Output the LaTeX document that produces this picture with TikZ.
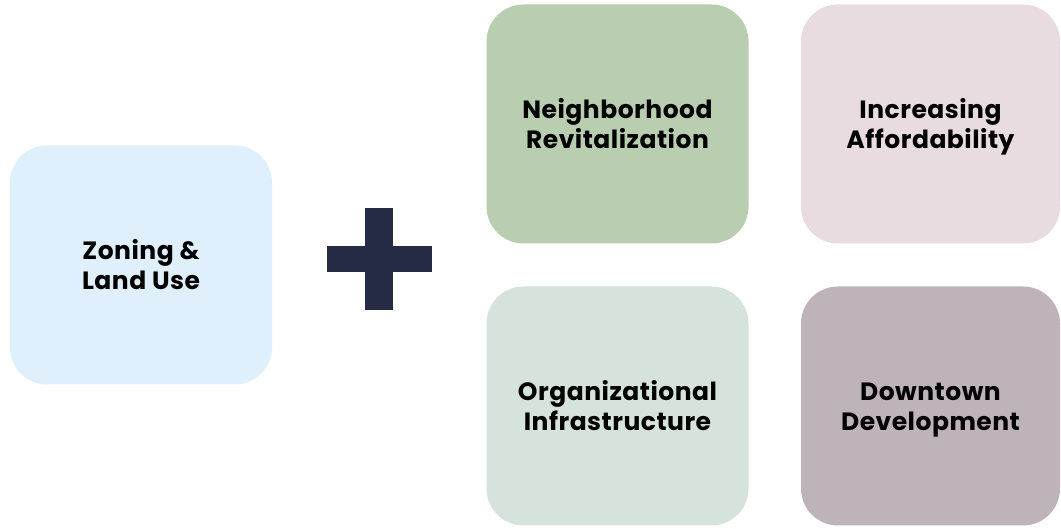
\documentclass[tikz,border=0pt]{standalone}
\usepackage{fontspec}
\setmainfont{Poppins}[LetterSpace=2]
\definecolor{cblue}{HTML}{E0EFFC}
\definecolor{cgreen}{HTML}{B9CDB1}
\definecolor{cpink}{HTML}{E8DCE0}
\definecolor{csage}{HTML}{D6E2DC}
\definecolor{cmauve}{HTML}{BFB3BA}
\definecolor{cnavy}{HTML}{252A45}
\newcommand{\topstrut}{\rule{0pt}{28pt}}
\newcommand{\botstrut}{\rule[-8pt]{0pt}{0pt}}
\begin{document}
\begin{tikzpicture}[x=1pt,y=1pt,
  tile/.style={rectangle,rounded corners=37pt,draw=none,minimum width=262pt,minimum height=239pt,
    align=center,font=\fontsize{25}{30}\selectfont\bfseries,text=black,inner sep=0pt},
  bar/.style={rectangle,fill=cnavy,draw=none,inner sep=0pt}]
\useasboundingbox (0,0) rectangle (1061,529);
\fill[white] (0,0) rectangle (1061,529);
\node[tile,fill=cblue] (zon) at (141,264) {\topstrut Zoning \&\\Land Use\botstrut};
\node[bar,minimum width=28pt,minimum height=102pt] (pv) at (379,270) {};
\node[bar,minimum width=105pt,minimum height=26pt] (ph) at (379.5,270) {};
\node[tile,fill=cgreen] (nei) at (617.5,405) {\topstrut Neighborhood\\Revitalization\botstrut};
\node[tile,fill=cpink,minimum width=259pt] (inc) at (930.5,405) {\topstrut Increasing\\Affordability\botstrut};
\node[tile,fill=csage] (org) at (617.5,123) {\topstrut Organizational\\Infrastructure\botstrut};
\node[tile,fill=cmauve,minimum width=259pt] (dow) at (930.5,123) {\topstrut Downtown\\Development\botstrut};
\end{tikzpicture}
\end{document}
